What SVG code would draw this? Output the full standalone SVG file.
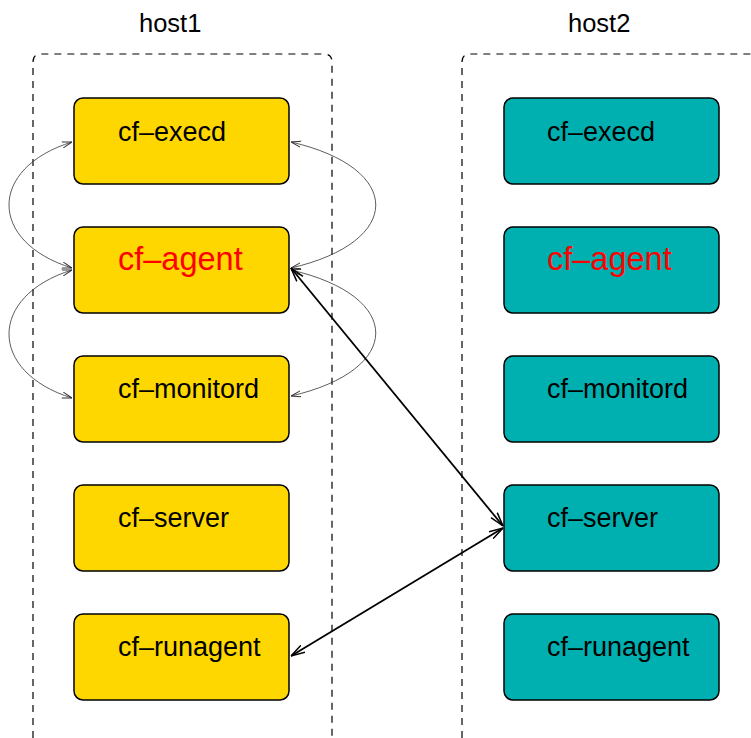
<svg xmlns="http://www.w3.org/2000/svg" width="751" height="738" viewBox="0 0 751 738">
  <style>
    .host { fill: none; stroke: #000; stroke-width: 1.2; stroke-dasharray: 7 6; }
    .hlabel { font-family: "Liberation Sans", Arial, sans-serif; font-size: 25.5px; fill: #000; }
    .n1 { fill: #ffd700; stroke: #000; stroke-width: 1.5; }
    .n2 { fill: #00b0b0; stroke: #000; stroke-width: 1.5; }
    .lbl { font-family: "Liberation Sans", Arial, sans-serif; font-size: 27px; fill: #000; }
    .red { fill: #ff0000; font-size: 32.5px; }
    .thin { fill: none; stroke: #333; stroke-width: 0.8; marker-start: url(#ha); marker-end: url(#ha); }
    .thick { fill: none; stroke: #000; stroke-width: 1.8; marker-start: url(#hb); marker-end: url(#hb); }
  </style>
  <defs>
    <marker id="ha" viewBox="0 0 10 10" refX="10" refY="5" markerWidth="10" markerHeight="10" markerUnits="userSpaceOnUse" orient="auto-start-reverse">
      <path d="M0,2 L10,5 L0,8" fill="none" stroke="#333" stroke-width="1"/>
    </marker>
    <marker id="hb" viewBox="0 0 14 10" refX="14" refY="5" markerWidth="14" markerHeight="10" markerUnits="userSpaceOnUse" orient="auto-start-reverse">
      <path d="M0,1 L14,5 L0,9" fill="none" stroke="#000" stroke-width="1.5"/>
    </marker>
  </defs>

  <!-- host containers -->
  <g id="host1">
    <path class="host" d="M33,738 V62 Q33,54 41,54 H324 Q332,54 332,62 V738"/>
    <text class="hlabel" x="139" y="32">host1</text>
  </g>
  <g id="host2">
    <path class="host" d="M462,738 V62 Q462,54 470,54 H760"/>
    <text class="hlabel" x="568" y="32">host2</text>
  </g>

  <!-- host1 daemons -->
  <g id="h1-execd"><rect class="n1" x="74" y="98" width="215" height="86" rx="9"/><text class="lbl" x="118" y="141">cf–execd</text></g>
  <g id="h1-agent"><rect class="n1" x="74" y="227" width="215" height="86" rx="9"/><text class="lbl red" x="118" y="270">cf–agent</text></g>
  <g id="h1-monitord"><rect class="n1" x="74" y="356" width="215" height="86" rx="9"/><text class="lbl" x="118" y="398">cf–monitord</text></g>
  <g id="h1-server"><rect class="n1" x="74" y="485" width="215" height="86" rx="9"/><text class="lbl" x="118" y="527">cf–server</text></g>
  <g id="h1-runagent"><rect class="n1" x="74" y="614" width="215" height="86" rx="9"/><text class="lbl" x="118" y="656">cf–runagent</text></g>

  <!-- host2 daemons -->
  <g id="h2-execd"><rect class="n2" x="504" y="98" width="215" height="86" rx="9"/><text class="lbl" x="547" y="141">cf–execd</text></g>
  <g id="h2-agent"><rect class="n2" x="504" y="227" width="215" height="86" rx="9"/><text class="lbl red" x="547" y="270">cf–agent</text></g>
  <g id="h2-monitord"><rect class="n2" x="504" y="356" width="215" height="86" rx="9"/><text class="lbl" x="547" y="398">cf–monitord</text></g>
  <g id="h2-server"><rect class="n2" x="504" y="485" width="215" height="86" rx="9"/><text class="lbl" x="547" y="527">cf–server</text></g>
  <g id="h2-runagent"><rect class="n2" x="504" y="614" width="215" height="86" rx="9"/><text class="lbl" x="547" y="656">cf–runagent</text></g>

  <!-- connectors -->
  <g id="connectors">
    <path class="thin" d="M72,142 C-12,168 -12,242 72,268"/>
    <path class="thin" d="M72,270 C-12,296 -12,372 72,398"/>
    <path class="thin" d="M291,142 C404,168 404,242 291,268"/>
    <path class="thin" d="M291,270 C404,296 404,370 291,396"/>
    <path class="thick" d="M291,268 L503,526"/>
    <path class="thick" d="M503,528 L291,656"/>
  </g>
</svg>
